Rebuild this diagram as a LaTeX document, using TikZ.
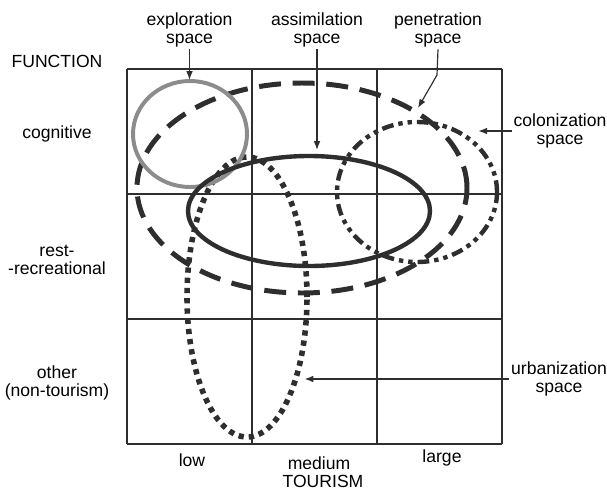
\documentclass[tikz,border=0pt]{standalone}
\usepackage{fontspec}
\setmainfont{Liberation Sans}
\usetikzlibrary{positioning,arrows.meta}
\definecolor{inkdark}{HTML}{2E2E2E}
\definecolor{inkgray}{HTML}{8C8C8C}

\begin{document}
\begin{tikzpicture}[x=3cm,y=3cm,
    lab/.style={font=\fontsize{12}{12.5}\selectfont, align=center, inner sep=1pt},
    pointer/.style={-{Latex[length=6pt,width=4.5pt]}, line width=0.8pt, inkdark},
    explo/.style={inkgray, line width=2.7pt},
    assim/.style={inkdark, line width=3pt},
    penet/.style={inkdark, line width=3.4pt, dash pattern=on 15pt off 8pt},
    colon/.style={inkdark, line width=3pt, dash pattern=on 8pt off 3.4pt on 3pt off 3.4pt on 3pt off 3.4pt},
    urban/.style={inkdark, line width=3.8pt, dash pattern=on 3.6pt off 3.4pt}]
    \useasboundingbox (-1.016,-0.376) rectangle (3.84,3.552);
    \draw[line width=0.9pt, inkdark, step=3cm] (0,0) grid (3,3);
    \foreach \y/\txt/\name in {3.064/FUNCTION/fn, 2.48/cognitive/cog, 1.472/{rest-\\-recreational}/rest, 0.488/{other\\(non-tourism)}/oth}
      \node[lab] (\name) at (-0.56,\y) {\txt};
    \foreach \x/\y/\txt/\name in {0.52/-0.128/low/low, 1.536/-0.152/medium/med, 2.52/-0.112/large/lrg}
      \node[lab] (\name) at (\x,\y) {\txt};
    \node[lab] (tour) at (1.568,-0.3) {TOURISM};
    \draw[urban] (0.96,1.176) ellipse [x radius=0.48, y radius=1.12];
    \draw[penet] (1.40,2.048) ellipse [x radius=1.32, y radius=0.84];
    \draw[colon] (2.32,2.016) ellipse [x radius=0.64, y radius=0.56];
    \draw[explo] (0.504,2.48) ellipse [x radius=0.456, y radius=0.424];
    \draw[assim] (1.456,1.864) ellipse [x radius=0.968, y radius=0.44];
    \node[lab] (explab) at (0.5,3.31) {exploration\\space};
    \node[lab] (assimlab) at (1.52,3.31) {assimilation\\space};
    \node[lab] (penlab) at (2.488,3.31) {penetration\\space};
    \node[lab] (colonlab) at (3.464,2.504) {colonization\\space};
    \node[lab] (urbanlab) at (3.456,0.52) {urbanization\\space};
    \coordinate (exptip) at (0.5,2.912);
    \coordinate (assimtip) at (1.52,2.352);
    \coordinate (penbend) at (2.48,2.952);
    \coordinate (pentip) at (2.328,2.688);
    \coordinate (colontip) at (2.81,2.504);
    \coordinate (urbantip) at (1.42,0.52);
    \draw[pointer] (explab) -- (exptip);
    \draw[pointer] (assimlab) -- (assimtip);
    \draw[pointer] (penlab.south) -- (penbend) -- (pentip);
    \draw[pointer] (colonlab.west) -- (colontip);
    \draw[pointer] (urbanlab.west) -- (urbantip);
\end{tikzpicture}
\end{document}
